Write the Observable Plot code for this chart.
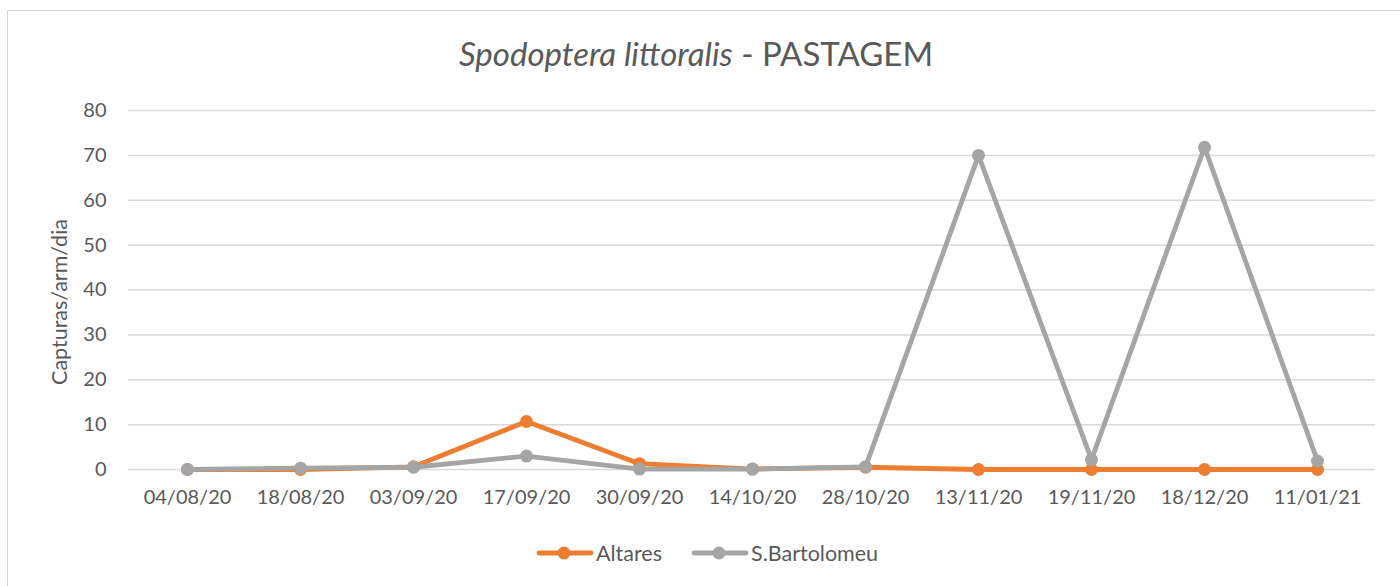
<!DOCTYPE html>
<html><head><meta charset="utf-8">
<script src="https://cdn.jsdelivr.net/npm/d3@7"></script>
<script src="https://cdn.jsdelivr.net/npm/@observablehq/plot@0.6"></script>
<style>
body{margin:0;background:#fff;}
#wrap{position:relative;width:1400px;height:586px;overflow:hidden;font-family:Lato,"Open Sans",sans-serif;color:#595959;}
#frame{position:absolute;left:7px;top:10px;width:1400px;height:600px;border:1px solid #d9d9d9;box-sizing:border-box;}
#title{position:absolute;left:0;width:1392px;top:33px;text-align:center;font-size:33px;color:#595959;white-space:nowrap;}
#chart{position:absolute;left:0;top:0;}
#legend{position:absolute;top:540px;left:0;width:1400px;height:26px;font-size:21.5px;color:#595959;}
.lg{position:absolute;top:0;display:flex;align-items:center;height:26px;}
</style></head>
<body><div id="wrap"><div id="frame"></div><div id="chart"></div><div id="title"><i>Spodoptera littoralis</i> - PASTAGEM</div><div id="legend"></div></div>
<script>
const dates = ["04/08/20","18/08/20","03/09/20","17/09/20","30/09/20","14/10/20","28/10/20","13/11/20","19/11/20","18/12/20","11/01/21"];
const seriesNames = ["Altares","S.Bartolomeu"];
const altares = [0.0,0.0,0.6,10.7,1.3,0.1,0.5,0.0,0.0,0.0,0.0];
const sBartolomeu = [0.0,0.3,0.5,3.0,0.1,0.1,0.6,70.0,2.2,71.8,1.9];
const yTicks = [0,10,20,30,40,50,60,70,80];
const colors = ["#ED7D31","#A5A5A5"];

const data = [];
dates.forEach((d,i)=>data.push({date:d,series:seriesNames[0],value:altares[i]}));
dates.forEach((d,i)=>data.push({date:d,series:seriesNames[1],value:sBartolomeu[i]}));

const plot = Plot.plot({
  width:1400, height:520,
  marginTop:110, marginBottom:51, marginLeft:128, marginRight:25,
  style:{fontFamily:"Lato, 'Open Sans', sans-serif", fontSize:"20px", color:"#595959", background:"transparent"},
  x:{type:"point", domain:dates, padding:0.5, label:null},
  y:{domain:[0,80], ticks:yTicks, label:null},
  color:{domain:seriesNames, range:colors},
  marks:[
    Plot.gridY(yTicks,{stroke:"#d9d9d9", strokeOpacity:1, strokeWidth:1.5}),
    Plot.axisY(yTicks,{tickSize:0, tickPadding:22, label:null, fontSize:20}),
    Plot.axisX({tickSize:0, tickPadding:20, label:null, fontSize:20}),
    Plot.text(["Capturas/arm/dia"],{frameAnchor:"left", textAnchor:"middle", dx:-68, dy:12, rotate:-90, fontSize:21.5, fill:"#595959"}),
    Plot.line(data,{x:"date", y:"value", z:"series", stroke:"series", strokeWidth:4.8, strokeLinejoin:"round", strokeLinecap:"round"}),
    Plot.dot(data,{x:"date", y:"value", fill:"series", r:6.5, stroke:"none"})
  ]
});
document.getElementById("chart").appendChild(plot);

const legend = document.getElementById("legend");
const lx = [536, 691];
seriesNames.forEach((n,i)=>{
  const d = document.createElement("div");
  d.className="lg"; d.style.left=lx[i]+"px";
  d.innerHTML = `<svg width="58" height="26"><line x1="3" y1="13" x2="55" y2="13" stroke="${colors[i]}" stroke-width="4.8" stroke-linecap="round"/><circle cx="28" cy="13" r="6.5" fill="${colors[i]}"/></svg><span style="margin-left:2px">${n}</span>`;
  legend.appendChild(d);
});
</script></body></html>
